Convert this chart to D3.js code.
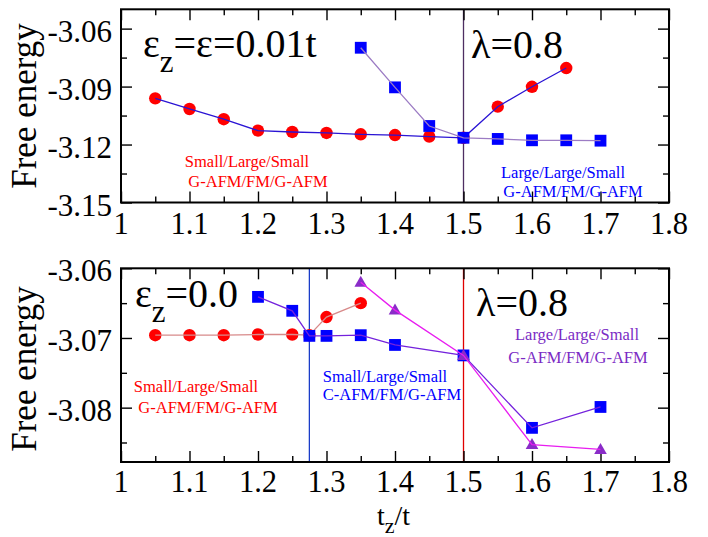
<!DOCTYPE html>
<html>
<head>
<meta charset="utf-8">
<script src="https://cdn.jsdelivr.net/npm/d3@7"></script>
<style>
  html, body { margin: 0; padding: 0; background: #fff; }
  svg { display: block; }
  text { font-family: "Liberation Serif", "DejaVu Serif", "Times New Roman", serif; }
</style>
</head>
<body>
<svg id="chart" width="708" height="537" font-family="Liberation Serif, DejaVu Serif, serif"></svg>
<script>
// ---- data ----
const xTicks = [1, 1.1, 1.2, 1.3, 1.4, 1.5, 1.6, 1.7, 1.8];
const xTickLabels = ["1", "1.1", "1.2", "1.3", "1.4", "1.5", "1.6", "1.7", "1.8"];

// upper panel: eps_z = eps = 0.01t
const topYTicks = [-3.15, -3.12, -3.09, -3.06];
const topYTickLabels = ["-3.15", "-3.12", "-3.09", "-3.06"];
const topCircleX = [1.05, 1.10, 1.15, 1.20, 1.25, 1.30, 1.35, 1.40, 1.45, 1.50, 1.55, 1.60, 1.65];
const topCircleY = [-3.0961, -3.1016, -3.1069, -3.1128, -3.1135, -3.1140, -3.1147, -3.1151, -3.1159, -3.1165, -3.1004, -3.0901, -3.0804];
const topSquareX = [1.35, 1.40, 1.45, 1.50, 1.55, 1.60, 1.65, 1.70];
const topSquareY = [-3.0699, -3.0904, -3.1104, -3.1165, -3.1171, -3.1178, -3.1178, -3.1180];
const topBoundaries = [1.5];

// lower panel: eps_z = 0.0
const botYTicks = [-3.08, -3.07, -3.06];
const botYTickLabels = ["-3.08", "-3.07", "-3.06"];
const botCircleX = [1.05, 1.10, 1.15, 1.20, 1.25, 1.275, 1.30, 1.35];
const botCircleY = [-3.0696, -3.0696, -3.0696, -3.0695, -3.0695, -3.0696, -3.0670, -3.0650];
const botSquareX = [1.20, 1.25, 1.275, 1.30, 1.35, 1.40, 1.50, 1.60, 1.70];
const botSquareY = [-3.0641, -3.0661, -3.0697, -3.0697, -3.0696, -3.0710, -3.0725, -3.0829, -3.0799];
const botTriangleX = [1.35, 1.40, 1.50, 1.60, 1.70];
const botTriangleY = [-3.0620, -3.0660, -3.0725, -3.0853, -3.0860];
const botBoundaries = [1.275, 1.5];

const svg = d3.select("#chart");
const zip = (xs, ys) => xs.map((x, i) => ({ x, y: ys[i] }));

const left = 121, right = 669;
const x = d3.scaleLinear().domain([1, 1.8]).range([left, right]);

function panel(cfg) {
  const y = d3.scaleLinear().domain(cfg.yDomain).range([cfg.bottom, cfg.top]);
  const g = svg.append("g");

  // clip for data
  const clipId = "clip" + cfg.id;
  svg.append("clipPath").attr("id", clipId)
    .append("rect").attr("x", left).attr("y", cfg.top)
    .attr("width", right - left).attr("height", cfg.bottom - cfg.top);

  // boundary lines
  cfg.boundaries.forEach((b, i) => {
    g.append("line")
      .attr("x1", x(b)).attr("x2", x(b))
      .attr("y1", cfg.top).attr("y2", cfg.bottom)
      .attr("stroke", cfg.boundaryColors[i]).attr("stroke-width", 1.3);
  });

  // axes: ticks inside on all sides
  const minorX = d3.range(1.05, 1.8, 0.1);
  const axB = d3.axisBottom(x).tickValues(xTicks).tickSize(-11).tickFormat("");
  const axBm = d3.axisBottom(x).tickValues(minorX).tickSize(-6).tickFormat("");
  const axT = d3.axisTop(x).tickValues(xTicks).tickSize(-11).tickFormat("");
  const axTm = d3.axisTop(x).tickValues(minorX).tickSize(-6).tickFormat("");
  const axL = d3.axisLeft(y).tickValues(cfg.yTicks).tickSize(-11).tickFormat("");
  const axLm = d3.axisLeft(y).tickValues(cfg.yMinor).tickSize(-6).tickFormat("");
  const axR = d3.axisRight(y).tickValues(cfg.yTicks).tickSize(-11).tickFormat("");
  const axRm = d3.axisRight(y).tickValues(cfg.yMinor).tickSize(-6).tickFormat("");

  const axes = [
    [axB, `translate(0,${cfg.bottom})`], [axBm, `translate(0,${cfg.bottom})`],
    [axT, `translate(0,${cfg.top})`], [axTm, `translate(0,${cfg.top})`],
    [axL, `translate(${left},0)`], [axLm, `translate(${left},0)`],
    [axR, `translate(${right},0)`], [axRm, `translate(${right},0)`]
  ];
  axes.forEach(([ax, tr]) => {
    const a = g.append("g").attr("transform", tr).call(ax);
    a.select(".domain").remove();
    a.selectAll(".tick line").attr("stroke", "#000").attr("stroke-width", 1.4);
  });

  // tick labels
  g.selectAll(".xl").data(xTicks).enter().append("text")
    .attr("x", d => x(d)).attr("y", cfg.bottom + cfg.xLabelGap)
    .attr("text-anchor", "middle").attr("font-size", 30.5)
    .text((d, i) => xTickLabels[i]);
  g.selectAll(".yl").data(cfg.yTicks).enter().append("text")
    .attr("x", 112).attr("y", d => y(d) + 13)
    .attr("text-anchor", "end").attr("font-size", 31)
    .text((d, i) => cfg.yTickLabels[i]);

  // data series
  const dg = g.append("g").attr("clip-path", `url(#${clipId})`);
  cfg.series.forEach(s => {
    const pts = zip(s.xs, s.ys);
    if (s.shape === "circle") {
      dg.selectAll(null).data(pts).enter().append("circle")
        .attr("cx", d => x(d.x)).attr("cy", d => y(d.y)).attr("r", 6.2)
        .attr("fill", s.fill);
    } else if (s.shape === "square") {
      dg.selectAll(null).data(pts).enter().append("rect")
        .attr("x", d => x(d.x) - 5.9).attr("y", d => y(d.y) - 5.9)
        .attr("width", 11.8).attr("height", 11.8).attr("fill", s.fill);
    } else {
      dg.selectAll(null).data(pts).enter().append("path")
        .attr("transform", d => `translate(${x(d.x)},${y(d.y)})`)
        .attr("d", "M0,-6.5L6.3,4.5L-6.3,4.5Z").attr("fill", s.fill);
    }
    dg.append("path").datum(pts)
      .attr("d", d3.line().x(d => x(d.x)).y(d => y(d.y)))
      .attr("fill", "none").attr("stroke", s.line).attr("stroke-width", 1.3);
  });

  // frame
  g.append("rect").attr("x", left).attr("y", cfg.top)
    .attr("width", right - left).attr("height", cfg.bottom - cfg.top)
    .attr("fill", "none").attr("stroke", "#000").attr("stroke-width", 2);

  // y axis title
  g.append("text")
    .attr("transform", `translate(36,${cfg.titleY}) rotate(-90)`)
    .attr("text-anchor", "middle").attr("font-size", 35)
    .text("Free energy");

  return { g, y };
}

// upper panel
panel({
  id: 1, top: 9.3, bottom: 202.5, yDomain: [-3.15, -3.05],
  yTicks: topYTicks, yTickLabels: topYTickLabels,
  yMinor: [-3.135, -3.105, -3.075],
  boundaries: topBoundaries, boundaryColors: ["#4e2e62"],
  titleY: 106, xLabelGap: 31,
  series: [
    { shape: "circle", xs: topCircleX, ys: topCircleY, fill: "#ff0000", line: "#2a14d4" },
    { shape: "square", xs: topSquareX, ys: topSquareY, fill: "#0000ff", line: "#9c7cc4" }
  ]
});

// lower panel
panel({
  id: 2, top: 268.3, bottom: 462, yDomain: [-3.0878, -3.06],
  yTicks: botYTicks, yTickLabels: botYTickLabels,
  yMinor: [-3.085, -3.075, -3.065],
  boundaries: botBoundaries, boundaryColors: ["#1a3cc8", "#e00000"],
  titleY: 369, xLabelGap: 30,
  series: [
    { shape: "circle", xs: botCircleX, ys: botCircleY, fill: "#ff0000", line: "#d88a8a" },
    { shape: "square", xs: botSquareX, ys: botSquareY, fill: "#0000ff", line: "#7422dc" },
    { shape: "triangle", xs: botTriangleX, ys: botTriangleY, fill: "#8a2cc8", line: "#e81ef0" }
  ]
});

// panel headings
function epsLabel(px, py, rest) {
  const t = svg.append("text").attr("x", px).attr("y", py).attr("font-size", 40);
  t.append("tspan").text("\u03b5");
  t.append("tspan").attr("font-size", 31).attr("dy", 15).text("z");
  t.append("tspan").attr("dy", -15).text(rest);
}
epsLabel(143, 57, "=\u03b5=0.01t");
epsLabel(135, 307, "=0.0");

svg.append("text").attr("x", 471).attr("y", 58).attr("font-size", 40).text("\u03bb=0.8");
svg.append("text").attr("x", 476).attr("y", 316).attr("font-size", 40).text("\u03bb=0.8");

// phase annotations
const notes = [
  { cx: 247, y: 167, text: "Small/Large/Small", color: "#ff0000" },
  { cx: 258, y: 187, text: "G-AFM/FM/G-AFM", color: "#ff0000" },
  { cx: 563, y: 178, text: "Large/Large/Small", color: "#0000ff" },
  { cx: 573, y: 197, text: "G-AFM/FM/G-AFM", color: "#0000ff" },
  { cx: 577, y: 340, text: "Large/Large/Small", color: "#7b2bc4" },
  { cx: 578, y: 363, text: "G-AFM/FM/G-AFM", color: "#7b2bc4" },
  { cx: 196, y: 392, text: "Small/Large/Small", color: "#ff0000" },
  { cx: 208, y: 413, text: "G-AFM/FM/G-AFM", color: "#ff0000" },
  { cx: 385, y: 382, text: "Small/Large/Small", color: "#0000ff" },
  { cx: 392, y: 400, text: "C-AFM/FM/G-AFM", color: "#0000ff" }
];
svg.selectAll(".note").data(notes).enter().append("text")
  .attr("x", d => d.cx).attr("y", d => d.y)
  .attr("text-anchor", "middle").attr("font-size", 16.5)
  .attr("fill", d => d.color).text(d => d.text);

// x axis title
const xt = svg.append("text").attr("x", 377).attr("y", 525).attr("font-size", 28);
xt.append("tspan").text("t");
xt.append("tspan").attr("font-size", 22).attr("dy", 8).text("z");
xt.append("tspan").attr("dy", -8).text("/t");
</script>
</body>
</html>
